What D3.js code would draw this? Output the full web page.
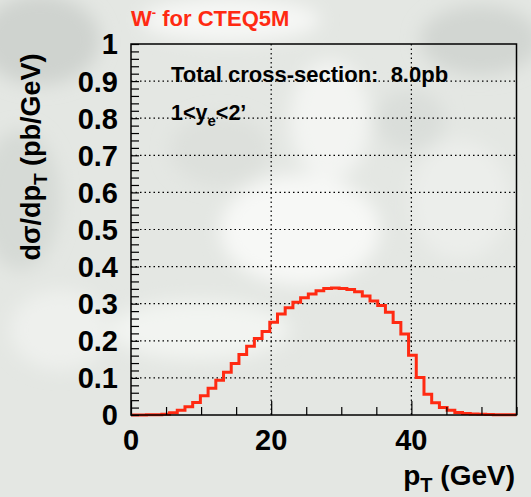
<!DOCTYPE html>
<html>
<head>
<meta charset="utf-8">
<script src="https://cdn.jsdelivr.net/npm/d3@7"></script>
<style>
  html, body { margin: 0; padding: 0; background: #e4e7e3; }
  svg { display: block; }
  text { font-family: "Liberation Sans", Arial, Helvetica, sans-serif; font-weight: bold; white-space: pre; }
</style>
</head>
<body>
<svg id="chart" width="531" height="497"></svg>
<script>
// pT spectrum of the electron from W- decay, CTEQ5M, 1 < y_e < 2
const binLow = 0;          // GeV
const binHigh = 55;        // GeV
const binValues = [
  0.000, 0.000, 0.0005, 0.001, 0.002, 0.006, 0.013, 0.022, 0.034, 0.052,
  0.072, 0.094, 0.115, 0.139, 0.163, 0.185, 0.206, 0.225, 0.250, 0.272,
  0.289, 0.304, 0.316, 0.326, 0.335, 0.341, 0.342, 0.341, 0.338, 0.332,
  0.321, 0.307, 0.295, 0.277, 0.249, 0.218, 0.161, 0.101, 0.056, 0.033,
  0.020, 0.013, 0.007, 0.004, 0.003, 0.002, 0.0015, 0.001, 0.001, 0.0005
];
const xTickValues = [0, 20, 40];
const yTickValues = [0, 0.1, 0.2, 0.3, 0.4, 0.5, 0.6, 0.7, 0.8, 0.9, 1];
const titleText = "W";
const infoLines = ["Total cross-section:  8.0pb"];

const svg = d3.select("#chart");
const W = 531, H = 497;
const frame = { left: 131, right: 516.5, top: 44, bottom: 415 };
const red = "#ff2a12";

// soft mottled backdrop
const defs = svg.append("defs");
defs.append("filter").attr("id", "soft").attr("x", "-50%").attr("y", "-50%")
  .attr("width", "200%").attr("height", "200%")
  .append("feGaussianBlur").attr("stdDeviation", 9);
svg.append("rect").attr("width", W).attr("height", H).attr("fill", "#e4e7e3");
const blobs = svg.append("g").attr("filter", "url(#soft)");
const blobData = [
  { cx: 40,  cy: 40,  rx: 60, ry: 45, c: "#cfd3cf" },
  { cx: 20,  cy: 200, rx: 40, ry: 70, c: "#d6dad6" },
  { cx: 230, cy: 20,  rx: 90, ry: 22, c: "#f6f7f5" },
  { cx: 480, cy: 40,  rx: 60, ry: 35, c: "#d2d6d2" },
  { cx: 300, cy: 230, rx: 80, ry: 55, c: "#f7f8f6" },
  { cx: 330, cy: 120, rx: 40, ry: 60, c: "#f3f4f2" },
  { cx: 200, cy: 330, rx: 90, ry: 30, c: "#f2f4f1" },
  { cx: 460, cy: 200, rx: 50, ry: 60, c: "#eceeeb" },
  { cx: 60,  cy: 330, rx: 50, ry: 40, c: "#eef0ed" },
  { cx: 220, cy: 150, rx: 50, ry: 35, c: "#dde0dc" },
  { cx: 410, cy: 120, rx: 35, ry: 30, c: "#dadeda" }
];
blobs.selectAll("ellipse").data(blobData).join("ellipse")
  .attr("cx", d => d.cx).attr("cy", d => d.cy)
  .attr("rx", d => d.rx).attr("ry", d => d.ry)
  .attr("fill", d => d.c);

const x = d3.scaleLinear().domain([binLow, binHigh]).range([frame.left, frame.right]);
const y = d3.scaleLinear().domain([0, 1]).range([frame.bottom, frame.top]);

// dotted grid
const grid = svg.append("g").attr("stroke", "#000").attr("stroke-width", 1.2)
  .attr("stroke-dasharray", "1.5,3");
grid.selectAll("line.gy").data(yTickValues.filter(v => v > 0 && v < 1)).join("line")
  .attr("class", "gy")
  .attr("x1", frame.left).attr("x2", frame.right)
  .attr("y1", d => y(d)).attr("y2", d => y(d));
grid.selectAll("line.gx").data(xTickValues.filter(v => v > binLow)).join("line")
  .attr("class", "gx")
  .attr("y1", frame.top).attr("y2", frame.bottom)
  .attr("x1", d => x(d)).attr("x2", d => x(d));

// histogram outline
const nb = binValues.length;
const bw = (binHigh - binLow) / nb;
const pts = [];
binValues.forEach((v, i) => {
  pts.push([binLow + i * bw, v]);
  pts.push([binLow + (i + 1) * bw, v]);
});
svg.append("path")
  .attr("d", d3.line().x(d => x(d[0])).y(d => y(d[1]))(pts))
  .attr("fill", "none").attr("stroke", red).attr("stroke-width", 3)
  .attr("stroke-linejoin", "miter");

// axes: ticks drawn inward
const yAxis = d3.axisRight(y).tickValues(d3.range(0, 1.0001, 0.02)).tickSize(8).tickFormat("");
svg.append("g").attr("transform", `translate(${frame.left},0)`).call(yAxis)
  .call(g => g.select(".domain").remove())
  .call(g => g.selectAll("line").attr("stroke", "#000").attr("stroke-width", 1.2));

const xMinor = d3.range(binLow, binHigh + 0.001, 5).filter(v => !xTickValues.includes(v));
const xAxisMinor = d3.axisTop(x).tickValues(xMinor).tickSize(8).tickFormat("");
svg.append("g").attr("transform", `translate(0,${frame.bottom})`).call(xAxisMinor)
  .call(g => g.select(".domain").remove())
  .call(g => g.selectAll("line").attr("stroke", "#000").attr("stroke-width", 1.2));
const xAxisMajor = d3.axisTop(x).tickValues(xTickValues).tickSize(14).tickFormat("");
svg.append("g").attr("transform", `translate(0,${frame.bottom})`).call(xAxisMajor)
  .call(g => g.select(".domain").remove())
  .call(g => g.selectAll("line").attr("stroke", "#000").attr("stroke-width", 1.2));

// frame
svg.append("rect")
  .attr("x", frame.left).attr("y", frame.top)
  .attr("width", frame.right - frame.left).attr("height", frame.bottom - frame.top)
  .attr("fill", "none").attr("stroke", "#000").attr("stroke-width", 1.5);

// tick labels
const fmt = v => (v === 0 || v === 1) ? String(v) : d3.format(".1f")(v);
svg.append("g").selectAll("text").data(yTickValues).join("text")
  .attr("x", 118).attr("y", d => y(d))
  .attr("dy", "0.36em")
  .attr("text-anchor", "end")
  .attr("font-size", 29)
  .attr("fill", "#000")
  .text(fmt);
svg.append("g").selectAll("text").data(xTickValues).join("text")
  .attr("x", d => x(d)).attr("y", 450)
  .attr("text-anchor", "middle")
  .attr("font-size", 29)
  .attr("fill", "#000")
  .text(d => d);

// axis titles
const xt = svg.append("text").attr("x", 515).attr("y", 485)
  .attr("text-anchor", "end").attr("font-size", 28).attr("fill", "#000");
xt.append("tspan").text("p");
xt.append("tspan").attr("font-size", 20).attr("dy", 7).text("T");
xt.append("tspan").attr("dy", -7).text(" (GeV)");

const yt = svg.append("text")
  .attr("transform", "translate(40,157) rotate(-90)")
  .attr("text-anchor", "middle").attr("font-size", 27).attr("fill", "#000");
yt.append("tspan").text("d\u03c3/dp");
yt.append("tspan").attr("font-size", 19).attr("dy", 7).text("T");
yt.append("tspan").attr("dy", -7).text(" (pb/GeV)");

// title
const tt = svg.append("text").attr("x", 131).attr("y", 26)
  .attr("font-size", 22).attr("fill", red);
tt.append("tspan").text(titleText);
tt.append("tspan").attr("font-size", 13).attr("dy", -9).text("-");
tt.append("tspan").attr("dy", 9).text(" for CTEQ5M");

// annotations
svg.append("text").attr("x", 171).attr("y", 82)
  .attr("font-size", 22).attr("fill", "#000")
  .text(infoLines[0]);
const rap = svg.append("text").attr("x", 171).attr("y", 120)
  .attr("font-size", 21.5).attr("fill", "#000");
rap.append("tspan").text("1<y");
rap.append("tspan").attr("font-size", 15).attr("dy", 6).text("e");
rap.append("tspan").attr("dy", -6).text("<2\u2019");
</script>
</body>
</html>
